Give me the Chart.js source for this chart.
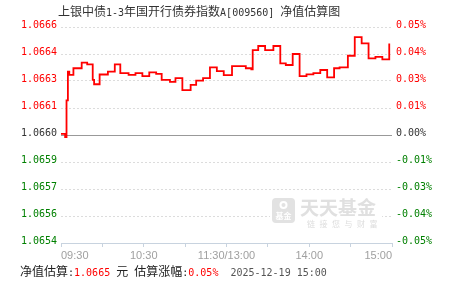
<!DOCTYPE html>
<html><head><meta charset="utf-8">
<script src="https://cdn.jsdelivr.net/npm/chart.js@4/dist/chart.umd.min.js"></script>
<style>
html,body{margin:0;padding:0;background:#fff;}
#wrap{position:relative;width:451px;height:281px;overflow:hidden;background:#fff;}
#c{position:absolute;left:0;top:0;}
.t{position:absolute;white-space:nowrap;line-height:12px;}
.cn{font-family:"Noto Sans CJK SC";font-size:12px;}
.mn{font-family:"DejaVu Sans Mono";font-size:10px;}
</style></head>
<body><div id="wrap">
<canvas id="c" width="451" height="281"></canvas>
<div class="t" id="title" style="left:58px;top:5px;color:#333"></div>
<div class="t" id="foot" style="left:20px;top:265px;"></div>
</div>
<script>
// ---- data ----
const titleText = "上银中债1-3年国开行债券指数A[009560] 净值估算图";
const changeMinutes = [0,3,4,5,6,9,15,19,23,24,28,34,39,43,49,54,59,64,69,73,79,83,88,94,98,103,108,113,118,124,134,138,139,143,148,154,159,163,168,173,178,183,188,193,198,202,208,213,218,223,228,233,238];
const changePct = [0.0005,-0.001,0.016,0.0293,0.0278,0.0309,0.0335,0.0327,0.0255,0.0235,0.028,0.0293,0.0327,0.0286,0.0278,0.0286,0.0273,0.029,0.0283,0.0255,0.0246,0.0263,0.0208,0.0232,0.0252,0.0263,0.0313,0.0296,0.0277,0.0319,0.0309,0.0304,0.0393,0.0412,0.0393,0.0412,0.0332,0.0324,0.0375,0.0273,0.0281,0.0286,0.0301,0.0267,0.0309,0.0313,0.0367,0.0453,0.0424,0.0355,0.0362,0.035,0.0424];
const leftTickLabels = ["1.0666","1.0664","1.0663","1.0661","1.0660","1.0659","1.0657","1.0656","1.0654"]; // top to bottom
const rightTickLabels = ["0.05%","0.04%","0.03%","0.01%","0.00%","-0.01%","-0.03%","-0.04%","-0.05%"]; // top to bottom
const xTickMinutes = [0,60,120,180,240];
const xTickLabels = ["09:30","10:30","11:30/13:00","14:00","15:00"];
const footerParts = [["净值估算:","#222"],["1.0665","#ff0000"],[" 元 ","#222"],["估算涨幅:","#222"],["0.05%","#ff0000"],["  2025-12-19 15:00","#555"]];
const watermarkName = "天天基金";
const watermarkSlogan = "链接您与财富";
const watermarkIcon = "基金";

// ---- text helpers ----
function runs(str){
  const out=[];let cur='',asc=null;
  for(const ch of str){const a=ch.charCodeAt(0)<128;
    if(asc===null||a===asc){cur+=ch;asc=a;}else{out.push([cur,asc]);cur=ch;asc=a;}}
  if(cur)out.push([cur,asc]);return out;
}
function fill(el,str,color){
  for(const [s,a] of runs(str)){const sp=document.createElement('span');sp.className=a?'mn':'cn';sp.textContent=s.replace(/ /g,'\u00a0');if(color)sp.style.color=color;el.appendChild(sp);}
}
fill(document.getElementById('title'),titleText);
const foot=document.getElementById('foot');
footerParts.forEach(([s,c])=>fill(foot,s,c));

const RED='#ff0000', GREEN='#008000', AXIS='#c8d3df';
const colorFor = v => v>1e-9?RED:(v<-1e-9?GREEN:'#333');
const idxTop = v => Math.round((0.05 - v)/0.0125);

const watermark = {
  id:'watermark',
  beforeDatasetsDraw(chart){
    const c=chart.ctx;c.save();
    c.fillStyle='#fff';c.fillRect(270,195,112,36);
    c.fillStyle='#e2e2e2';
    const x=272,y=198,w=23,h=25,r=4;
    c.beginPath();c.moveTo(x+r,y);c.arcTo(x+w,y,x+w,y+h,r);c.arcTo(x+w,y+h,x,y+h,r);c.arcTo(x,y+h,x,y,r);c.arcTo(x,y,x+w,y,r);c.closePath();c.fill();
    c.fillStyle='#fff';c.beginPath();c.arc(x+w/2,y+7,4,0,Math.PI*2);c.fill();
    c.fillStyle='#e2e2e2';c.beginPath();c.arc(x+w/2,y+7,2,0,Math.PI*2);c.fill();
    c.fillStyle='#fff';c.font='bold 8px "Noto Sans CJK SC"';c.textAlign='center';c.textBaseline='middle';
    c.fillText(watermarkIcon,x+w/2,y+18);
    c.fillStyle='#e0e0e0';c.font='bold 19px "Noto Sans CJK SC"';c.textAlign='left';
    c.fillText(watermarkName,300,208);
    c.font='8px "Noto Sans CJK SC"';c.fillStyle='#dddddd';
    [...watermarkSlogan].forEach((ch,i)=>c.fillText(ch,307+i*12.5,224));
    c.restore();
  }
};

const points = changeMinutes.map((m,i)=>({x:m,y:changePct[i]}));

new Chart(document.getElementById('c'),{
  type:'line',
  data:{datasets:[{data:points,borderColor:RED,borderWidth:1.8,pointRadius:0,stepped:true,fill:false,yAxisID:'y'}]},
  options:{
    responsive:false,animation:false,devicePixelRatio:1,
    layout:{padding:{top:27,left:0,right:0,bottom:0}},
    plugins:{legend:{display:false},tooltip:{enabled:false},title:{display:false}},
    scales:{
      x:{type:'linear',min:0,max:240,
        afterBuildTicks:s=>{s.ticks=[0,30,60,90,120,150,180,210,240].map(v=>({value:v}));},
        afterFit:s=>{s.height=38;},
        ticks:{autoSkip:false,maxRotation:0,align:'inner',padding:2,color:'#a0a0a0',
          font:{family:'"Liberation Sans"',size:11},
          callback:v=>{const i=xTickMinutes.indexOf(v);return i>=0?xTickLabels[i]:'';}},
        grid:{drawOnChartArea:false,drawTicks:true,tickLength:4,tickColor:AXIS,color:AXIS},
        border:{display:true,color:AXIS,width:1}
      },
      y:{position:'left',min:-0.05,max:0.05,
        afterBuildTicks:s=>{s.ticks=[-0.05,-0.0375,-0.025,-0.0125,0,0.0125,0.025,0.0375,0.05].map(v=>({value:v}));},
        afterFit:s=>{s.width=61;},
        ticks:{padding:4,labelOffset:-2,font:{family:'"DejaVu Sans Mono"',size:10},
          color:c=>colorFor(c.tick.value),
          callback:v=>leftTickLabels[idxTop(v)]},
        grid:{drawTicks:false,tickLength:0,
          color:c=>{const v=c.tick?c.tick.value:1;return Math.abs(v+0.05)<1e-9?'rgba(0,0,0,0)':(Math.abs(v)<1e-9?'#999':'#dcdcdc');},
          lineWidth:1},
        border:{display:false,dash:c=>(c.tick&&Math.abs(c.tick.value)<1e-9)?[]:[2,2]}
      },
      y1:{position:'right',min:-0.05,max:0.05,
        afterBuildTicks:s=>{s.ticks=[-0.05,-0.0375,-0.025,-0.0125,0,0.0125,0.025,0.0375,0.05].map(v=>({value:v}));},
        afterFit:s=>{s.width=59;},
        ticks:{padding:4,labelOffset:-2,font:{family:'"DejaVu Sans Mono"',size:10},
          color:c=>colorFor(c.tick.value),
          callback:v=>rightTickLabels[idxTop(v)]},
        grid:{display:false,drawTicks:false},
        border:{display:false}
      }
    }
  },
  plugins:[watermark]
});
</script>
</body></html>
